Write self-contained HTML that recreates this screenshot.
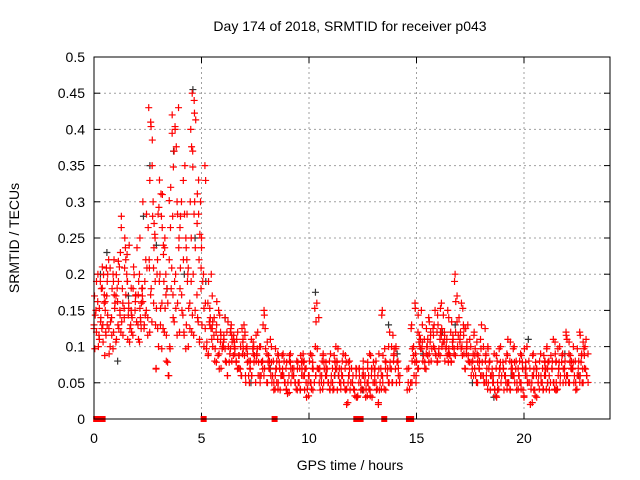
<!DOCTYPE html>
<html><head><meta charset="utf-8"><style>
body{margin:0;background:#fff;}
svg{display:block;font-family:"Liberation Sans",sans-serif;}
</style></head><body>
<svg id="chart" width="640" height="480" viewBox="0 0 640 480">
<text x="350" y="31" text-anchor="middle" font-size="14">Day 174 of 2018, SRMTID for receiver p043</text>
<text transform="translate(19,238) rotate(-90)" text-anchor="middle" font-size="14">SRMTID / TECUs</text>
<text x="350" y="470" text-anchor="middle" font-size="14">GPS time / hours</text>
<g id="grid"></g>
<g id="ticks"></g>
<g id="gray"></g>
<g id="red"></g>
<rect x="94" y="57" width="516" height="362" fill="none" stroke="#000" stroke-width="1"/>
</svg>
<script>
const xTicks=[0,5,10,15,20];
const yTicks=[0,0.05,0.1,0.15,0.2,0.25,0.3,0.35,0.4,0.45,0.5];
const yTickLabels=["0","0.05","0.1","0.15","0.2","0.25","0.3","0.35","0.4","0.45","0.5"];
const binWidth=0.25;
const redBins=[
[.13,.15,.2,.17,.12,.1],[.19,.21,.16,.14,.13,.11,.18],[.17,.22,.15,.13,.09,.12,.2],[.2,.16,.14,.12,.1,.18,.22],
[.21,.17,.13,.15,.11,.19,.23],[.22,.18,.14,.12,.16,.25,.28],[.2,.16,.13,.19,.24,.15,.11],[.18,.15,.12,.21,.17,.14],
[.2,.16,.13,.25,.18,.11,.14],[.22,.17,.13,.15,.3,.19],[.35,.43,.41,.28,.22,.18,.14,.12],[.3,.25,.2,.16,.13,.22,.27,.07],
[.33,.28,.24,.2,.16,.1,.13,.31],[.2,.16,.12,.08,.06,.25,.18],[.42,.37,.32,.28,.22,.18,.14,.1],[.43,.4,.3,.25,.2,.16,.12],
[.35,.3,.22,.18,.15,.12,.28],[.25,.2,.16,.13,.1,.3,.22],[.45,.44,.4,.37,.3,.25,.2,.15,.12],[.33,.3,.27,.22,.18,.14,.11],
[.35,.25,.2,.16,.13,.1],[.2,.16,.13,.11,.09,.14],[.17,.14,.12,.1,.08,.13],[.15,.12,.1,.09,.07,.11],
[.14,.12,.1,.08,.06,.11],[.13,.11,.09,.08,.1,.12],[.12,.1,.08,.07,.09,.11],[.13,.1,.09,.07,.06,.11],
[.12,.1,.08,.06,.09,.05],[.11,.09,.07,.06,.1,.08],[.12,.1,.08,.06,.05,.09],[.15,.1,.08,.07,.06,.13],
[.11,.09,.07,.06,.05,.08],[.1,.08,.06,.05,.04,.07],[.09,.07,.06,.05,.04,.08],[.08,.07,.06,.05,.04,.09],
[.09,.07,.06,.05,.035,.08],[.08,.06,.05,.04,.07],[.09,.07,.06,.05,.04,.08],[.08,.07,.05,.04,.03,.06],
[.09,.07,.06,.05,.04,.08],[.16,.14,.1,.07,.05,.06],[.09,.07,.06,.05,.04,.08],[.08,.07,.05,.04,.06],
[.09,.07,.06,.05,.04,.08],[.08,.06,.05,.04,.07,.1],[.09,.07,.06,.05,.04,.08],[.08,.07,.05,.04,.02,.06],
[.07,.05,.04,.03,.06],[.06,.05,.04,.03,.07],[.08,.06,.05,.04,.03,.07],[.09,.07,.05,.04,.03,.06],
[.08,.06,.05,.04,.02,.07],[.15,.09,.07,.05,.04,.06],[.1,.08,.06,.05,.04,.07],[.12,.1,.08,.07,.05,.09],
[.1,.08,.06,.05,.07],[],[.07,.05,.04],[.16,.13,.1,.09,.08,.06,.05],
[.15,.12,.1,.08,.07,.11],[.13,.11,.09,.08,.07,.1],[.14,.12,.1,.09,.08,.11],[.15,.12,.1,.09,.08,.13],
[.16,.13,.11,.1,.09,.12],[.15,.12,.1,.09,.08,.11],[.14,.12,.1,.09,.08,.11],[.2,.17,.14,.12,.1,.09],
[.16,.13,.11,.1,.09,.12],[.13,.11,.09,.08,.07,.1],[.12,.1,.08,.07,.06,.09],[.11,.09,.07,.06,.05,.08],
[.13,.1,.08,.06,.05,.09],[.1,.08,.06,.05,.04,.07],[.09,.07,.05,.04,.03,.06],[.1,.08,.06,.05,.04,.07],
[.09,.07,.06,.05,.04,.08],[.11,.08,.06,.05,.04,.07],[.1,.08,.07,.05,.04,.06],[.09,.07,.06,.05,.04,.08],
[.1,.08,.06,.05,.03,.07],[.09,.07,.05,.04,.02,.06],[.08,.07,.05,.04,.03,.06],[.09,.07,.06,.05,.04,.08],
[.1,.08,.06,.05,.04,.07],[.11,.09,.07,.05,.04,.08],[.1,.08,.06,.05,.04,.07],[.12,.09,.07,.06,.05,.08],
[.11,.09,.07,.06,.05,.08],[.1,.08,.06,.05,.04,.07],[.12,.09,.07,.06,.05,.08],[.11,.09,.07,.06,.05,.1]
];
const grayT=[0.3,0.6,1.1,1.6,2.3,2.6,2.9,3.4,3.7,4.2,4.6,4.7,5.2,6.1,7.3,8.2,9.6,10.3,11.2,12.5,13.7,14.1,15.3,16.2,16.8,17.6,18.6,19.4,20.2,21.1,21.9,22.6];
const grayY=[0.2,0.23,0.08,0.17,0.28,0.35,0.24,0.18,0.37,0.2,0.455,0.25,0.19,0.14,0.05,0.07,0.04,0.175,0.06,0.04,0.13,0.09,0.09,0.12,0.13,0.05,0.03,0.06,0.11,0.05,0.09,0.06];
const zeroT=[0.1,0.15,0.2,0.25,0.3,0.35,0.4,5.1,8.4,12.2,12.3,12.4,13.5,14.65,14.7,14.75];
const L=94,R=610,T=57,B=419,xMax=24,yMax=0.5;
function xs(t){return L+(R-L)*t/xMax;}
function ys(v){return B-(B-T)*v/yMax;}
const NS="http://www.w3.org/2000/svg";
function mk(tag,attrs,parent){const e=document.createElementNS(NS,tag);for(const k in attrs)e.setAttribute(k,attrs[k]);parent.appendChild(e);return e;}
const grid=document.getElementById('grid'),ticks=document.getElementById('ticks');
yTicks.forEach((v,i)=>{const y=ys(v);
 if(i>0&&i<yTicks.length-1){const g=mk('line',{x1:L,x2:R,y1:y,y2:y,stroke:'#a0a0a0','stroke-dasharray':'2,3'},grid);
 
 }
 mk('line',{x1:L,x2:L+6,y1:y,y2:y,stroke:'#000'},ticks);mk('line',{x1:R,x2:R-6,y1:y,y2:y,stroke:'#000'},ticks);
 const t=mk('text',{x:L-9,y:y+5,'text-anchor':'end','font-size':'14'},ticks);t.textContent=yTickLabels[i];
 
 });
xTicks.forEach(v=>{const x=xs(v);
 if(v>0){const g=mk('line',{x1:x,x2:x,y1:T,y2:B,stroke:'#a0a0a0','stroke-dasharray':'2,3'},grid);
 
 }
 mk('line',{x1:x,x2:x,y1:B,y2:B-6,stroke:'#000'},ticks);mk('line',{x1:x,x2:x,y1:T,y2:T+6,stroke:'#000'},ticks);
 const t=mk('text',{x:x,y:B+24,'text-anchor':'middle','font-size':'14'},ticks);t.textContent=String(v);
 
 });
function plus(g,t,v,c){const x=xs(t),y=ys(v);
 const p=mk('path',{d:`M${x-3.5} ${y}h7M${x} ${y-3.5}v7`,stroke:c,'stroke-width':1.2,fill:'none'},g);
 
 }
const gg=document.getElementById('gray'),rg=document.getElementById('red');
grayT.forEach((t,i)=>plus(gg,t,grayY[i],'#333'));
redBins.forEach((vals,b)=>{vals.forEach((v,j)=>{const off=((j*37+b*13)%11)/11;
 const t=b*binWidth+binWidth*off;plus(rg,t,v,'#f00');
 plus(rg,b*binWidth+binWidth*(((j*29+b*7)%13)/13),v*0.93+0.004,'#f00');});});
zeroT.forEach(t=>{const x=xs(t);const r=mk('rect',{x:x-3,y:B-3,width:6,height:6,fill:'#f00'},rg);
 
 });
</script>
</body></html>
